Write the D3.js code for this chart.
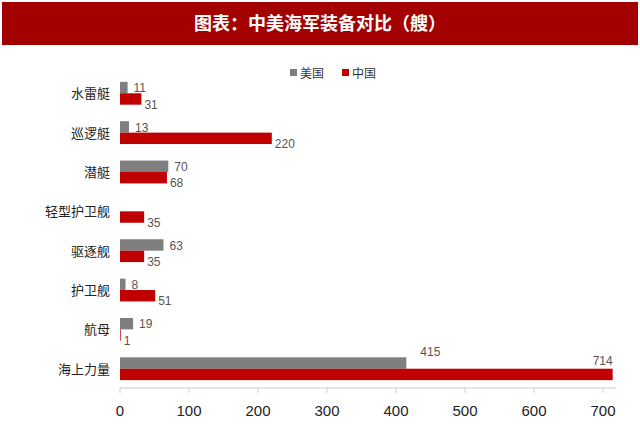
<!DOCTYPE html><html><head><meta charset="utf-8"><script src="https://cdn.jsdelivr.net/npm/d3@7"></script>
<style>body{margin:0;background:#fff}</style></head><body><svg width="640" height="437"></svg><script>
const categories=["水雷艇","巡逻艇","潜艇","轻型护卫舰","驱逐舰","护卫舰","航母","海上力量"];
const usValues=[11,13,70,null,63,8,19,415];
const cnValues=[31,220,68,35,35,51,1,714];
const ticks=[0,100,200,300,400,500,600,700];
const svg=d3.select("svg");
svg.append("rect").attr("x",2).attr("y",2).attr("width",636).attr("height",43).attr("fill","#a30000");
svg.append("text").attr("x",320).attr("y",30).attr("text-anchor","middle").attr("fill","#fff").attr("font-size",18).attr("font-family","Noto Sans CJK SC").attr("font-weight","bold").text("图表：中美海军装备对比（艘）");
const x=d3.scaleLinear().domain([0,700]).range([120,603]);
const y=d3.scaleBand().domain(categories).range([74,388]).paddingInner(0.42).paddingOuter(0.2);
const bh=y.bandwidth()/2;
svg.append("line").attr("x1",120).attr("x2",616).attr("y1",388).attr("y2",388).attr("stroke","#ccc");
ticks.forEach(t=>{svg.append("line").attr("x1",x(t)).attr("x2",x(t)).attr("y1",388).attr("y2",393).attr("stroke","#ccc");
svg.append("text").attr("x",x(t)).attr("y",416).attr("text-anchor","middle").attr("font-size",15).attr("font-family","Liberation Sans").attr("fill","#222").text(t);});
categories.forEach((c,i)=>{
svg.append("text").attr("x",110).attr("y",y(c)+bh+5).attr("text-anchor","end").attr("font-size",13).attr("font-family","Noto Sans CJK SC").attr("fill","#222").text(c);
if(usValues[i]!=null){svg.append("rect").attr("x",x(0)).attr("y",y(c)).attr("width",x(usValues[i])-x(0)).attr("height",bh).attr("fill","#7f7f7f");
svg.append("text").attr("x",x(usValues[i])+(i==7?14:6)).attr("y",y(c)+(i==7?-1:bh-1)).attr("font-size",12).attr("font-family","Liberation Sans").attr("fill","#555").text(usValues[i]);}
svg.append("rect").attr("x",x(0)).attr("y",y(c)+bh).attr("width",x(cnValues[i])-x(0)).attr("height",bh).attr("fill","#c00000");
svg.append("text").attr("x",i==7?x(cnValues[i]):x(cnValues[i])+3).attr("y",i==7?y(c)+bh-4:y(c)+2*bh+4).attr("text-anchor",i==7?"end":"start").attr("font-size",12).attr("font-family","Liberation Sans").attr("fill","#555").text(cnValues[i]);
});
const lg=[["美国","#7f7f7f",290],["中国","#c00000",342]];
lg.forEach(l=>{svg.append("rect").attr("x",l[2]).attr("y",69).attr("width",7).attr("height",7).attr("fill",l[1]);
svg.append("text").attr("x",l[2]+10).attr("y",78).attr("font-size",12).attr("font-family","Noto Sans CJK SC").attr("fill","#333").text(l[0]);});
</script></body></html>
